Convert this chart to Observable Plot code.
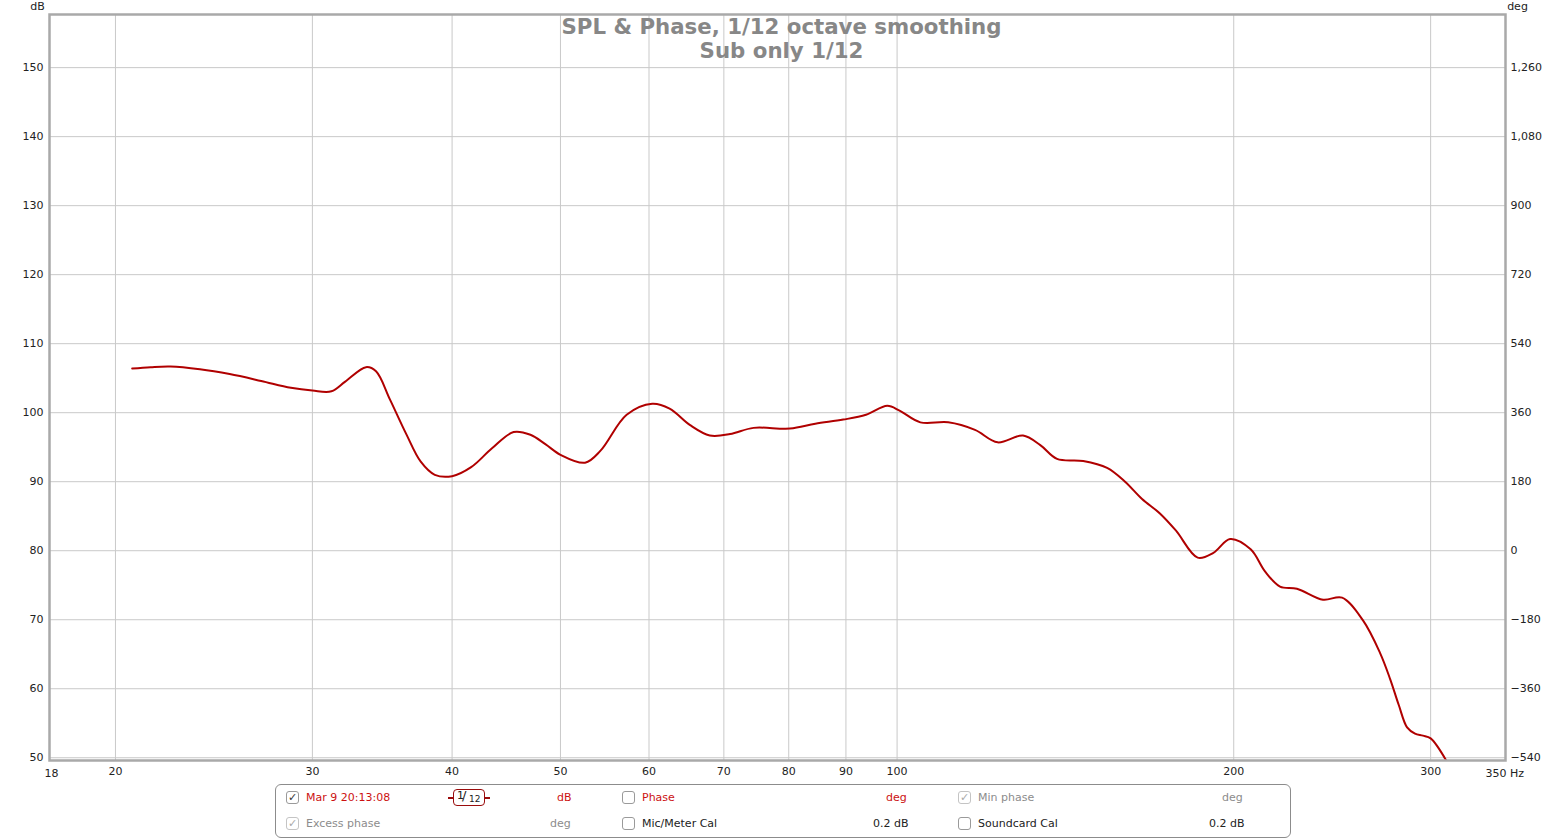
<!DOCTYPE html>
<html><head><meta charset="utf-8">
<script src="https://cdn.jsdelivr.net/npm/d3@7"></script>
<script src="https://cdn.jsdelivr.net/npm/@observablehq/plot@0.6"></script>
<style>
body{margin:0;background:#fff;font-family:"DejaVu Sans",sans-serif;}
#wrap{position:relative;width:1566px;height:840px;overflow:hidden;}
#legend{position:absolute;left:275px;top:784px;width:1014px;height:52px;border:1px solid #8c8c8c;border-radius:6px;}
.it{position:absolute;font-size:11px;line-height:14px;white-space:nowrap;}
.cb{position:absolute;width:11px;height:11px;border:1px solid #9a9a9a;border-radius:3px;background:#fff;font-size:11px;line-height:11px;text-align:center;color:#333;}
.cb.g{color:#aaa;border-color:#c4c4c4;}
.red{color:#cc1111;}
.gray{color:#8c8c8c;}
.blk{color:#222;}
#smooth{position:absolute;left:453px;top:789px;width:30px;height:15px;border:1.5px solid #9a0c0c;border-radius:4px;font-size:10px;color:#222;}
.ln{position:absolute;height:1.5px;background:#9a0c0c;width:5px;top:797px;}
</style></head><body>
<div id="wrap"><div id="chart"></div><div id="legend"></div></div>
<script>
const freqHz = [20.7,21.5,22.4,23.8,25.3,27.0,28.7,30.0,31.2,32.1,33.5,34.2,35.2,36.4,37.5,38.6,40.0,41.6,43.4,45.4,47.0,48.5,50.0,52.6,54.3,57.3,60.4,62.6,65.3,68.0,70.9,74.4,80.2,84.5,89.5,93.8,98.0,100.5,104.9,111.1,117.4,123.0,129.6,134.3,139.0,146.7,154.1,159.9,165.6,171.8,177.6,185.7,191.8,198.5,207.1,213.3,220.0,227.8,240.4,250.0,261.0,270.3,276.0,281.0,285.8,290.5,295.3,300.0,310.3];
const splDb = [106.4,106.6,106.7,106.3,105.6,104.6,103.6,103.2,103.1,104.5,106.6,106.0,101.9,96.9,92.9,91.0,90.8,92.1,94.8,97.2,96.8,95.4,93.9,92.75,94.5,99.7,101.3,100.6,98.2,96.7,96.9,97.8,97.7,98.4,99.0,99.7,101.0,100.3,98.6,98.6,97.5,95.7,96.7,95.3,93.3,93.0,92.0,90.0,87.5,85.4,82.9,79.0,79.7,81.7,80.2,77.0,74.8,74.5,72.9,73.2,69.9,65.2,61.4,57.6,54.4,53.5,53.2,52.8,49.4];
const xDomainHz = [17.46, 350];
const yDomainDb = [49.6, 157.7];
const xTickHz = [20,30,40,50,60,70,80,90,100,200,300];
const xStartLabel = "18";
const xEndLabel = "350 Hz";
const yTicksDb = [50,60,70,80,90,100,110,120,130,140,150];
const degLabels = ["\u2212540","\u2212360","\u2212180","0","180","360","540","720","900","1,080","1,260"];
const titleLines = ["SPL & Phase, 1/12 octave smoothing","Sub only 1/12"];

const data = freqHz.map((f,i)=>({f, db: splDb[i]}));

const chart = Plot.plot({
  width:1566, height:785,
  marginLeft:49, marginRight:61, marginTop:14, marginBottom:25,
  x:{type:"log", domain:xDomainHz},
  y:{domain:yDomainDb},
  style:{fontFamily:"DejaVu Sans", fontSize:"11px", color:"#222", background:"white"},
  marks:[
    Plot.gridX(xTickHz,{stroke:"#c9c9c9", strokeOpacity:1}),
    Plot.gridY(yTicksDb,{stroke:"#c9c9c9", strokeOpacity:1}),
    Plot.axisY(yTicksDb,{anchor:"left", tickSize:0, tickPadding:6, label:null, tickFormat:d=>String(d)}),
    Plot.axisY(yTicksDb,{anchor:"right", tickSize:0, tickPadding:5, label:null, tickFormat:d=>degLabels[yTicksDb.indexOf(d)]}),
    Plot.axisX(xTickHz,{anchor:"bottom", tickSize:0, tickPadding:7, label:null, tickFormat:d=>String(d)}),
    Plot.text([xStartLabel],{frameAnchor:"bottom-left", dx:2, dy:13, textAnchor:"middle", lineAnchor:"middle", fill:"#222"}),
    Plot.text([xEndLabel],{frameAnchor:"bottom-right", dx:-20, dy:13, textAnchor:"start", lineAnchor:"middle", fill:"#222"}),
    Plot.text(["dB"],{frameAnchor:"top-left", dx:-12, dy:-8, textAnchor:"middle", lineAnchor:"middle", fill:"#222"}),
    Plot.text(["deg"],{frameAnchor:"top-right", dx:12, dy:-8, textAnchor:"middle", lineAnchor:"middle", fill:"#222"}),
    Plot.text([titleLines[0]],{frameAnchor:"top", dx:4, dy:13, lineAnchor:"middle", fontSize:21.3, fontWeight:"bold", fill:"#878787"}),
    Plot.text([titleLines[1]],{frameAnchor:"top", dx:4, dy:37, lineAnchor:"middle", fontSize:21.3, fontWeight:"bold", fill:"#878787"}),
    Plot.line(data,{x:"f", y:"db", stroke:"#b00000", strokeWidth:2, curve:"catmull-rom", clip:true}),
    Plot.frame({stroke:"#a9a9a9", strokeWidth:2.5})
  ]
});
document.getElementById("chart").appendChild(chart);

// Legend (REW panel)
const wrap = document.getElementById("wrap");
function add(html, cls, x, y){ const d=document.createElement("div"); d.className=cls; d.style.left=x+"px"; d.style.top=y+"px"; d.innerHTML=html; wrap.appendChild(d); return d; }
const r1=791, r2=817;
add("\u2713","cb",286,r1); add("Mar 9 20:13:08","it red",306,r1);
add("dB","it red",557,r1);
add("","cb",622,r1); add("Phase","it red",642,r1);
add("deg","it red",886,r1);
add("\u2713","cb g",958,r1); add("Min phase","it gray",978,r1);
add("deg","it gray",1222,r1);
add("\u2713","cb g",286,r2); add("Excess phase","it gray",306,r2);
add("deg","it gray",550,r2);
add("","cb",622,r2); add("Mic/Meter Cal","it blk",642,r2);
add("0.2 dB","it blk",873,r2);
add("","cb",958,r2); add("Soundcard Cal","it blk",978,r2);
add("0.2 dB","it blk",1209,r2);
const sm=document.createElement("div"); sm.id="smooth";
sm.innerHTML='<span style="position:absolute;left:3px;top:-1px;font-size:11px">1</span><span style="position:absolute;left:8px;top:-2px;font-size:13px">/</span><span style="position:absolute;left:15px;top:4px;font-size:9px">12</span>';
wrap.appendChild(sm);
const l1=document.createElement("div"); l1.className="ln"; l1.style.left="448px"; wrap.appendChild(l1);
const l2=document.createElement("div"); l2.className="ln"; l2.style.left="485px"; wrap.appendChild(l2);
</script>
</body></html>
